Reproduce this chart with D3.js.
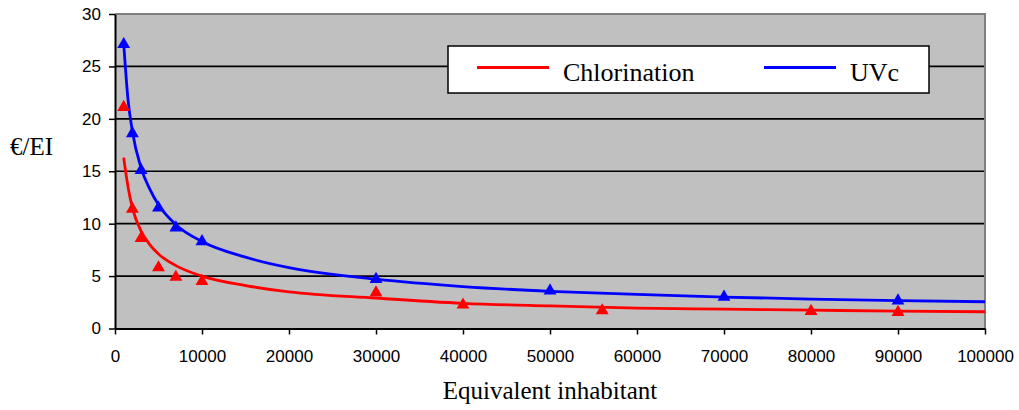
<!DOCTYPE html>
<html>
<head>
<meta charset="utf-8">
<title>Cost per EI: Chlorination vs UVc</title>
<script src="https://d3js.org/d3.v7.min.js"></script>
<style>
  body { margin: 0; background: #fff; }
  .tick text { font-family: "Liberation Sans", Arial, sans-serif; font-size: 17px; fill: #000; }
</style>
</head>
<body>
<script>
// measured points (triangles)
var redX  = [1000, 2000, 3000, 5000, 7000, 10000, 30000, 40000, 56000, 80000, 90000];
var redY  = [21.2, 11.5, 8.7, 5.9, 5.0, 4.6, 3.5, 2.35, 1.8, 1.75, 1.65];
var blueX = [1000, 2000, 3000, 5000, 7000, 10000, 30000, 50000, 70000, 90000];
var blueY = [27.2, 18.7, 15.2, 11.6, 9.7, 8.4, 4.8, 3.7, 3.1, 2.75];

// trend lines
var trendX    = [1000, 1500, 2000, 3000, 4000, 5000, 7000, 10000, 15000, 20000, 30000, 40000, 50000, 60000, 70000, 80000, 90000, 100000];
var redTrend  = [16.3, 13.5, 11.5, 9.3, 8.0, 7.1, 6.0, 5.0, 4.1, 3.5, 2.9, 2.4, 2.15, 1.95, 1.85, 1.75, 1.65, 1.6];
var blueTrend = [27.2, 21.8, 18.8, 15.3, 13.3, 11.8, 9.9, 8.3, 6.8, 5.8, 4.7, 4.0, 3.55, 3.25, 3.0, 2.8, 2.65, 2.55];

var xTicks = [0, 10000, 20000, 30000, 40000, 50000, 60000, 70000, 80000, 90000, 100000];
var yTicks = [0, 5, 10, 15, 20, 25, 30];
var seriesNames = ["Chlorination", "UVc"];
var colors = ["#ff0000", "#0000ff"];

(function() {
    var w = 1019, h = 410;
    var pl = 115, pr = 985, pt = 14, pb = 328.5;

    var x = d3.scaleLinear().domain([0, 100000]).range([pl, pr]);
    var y = d3.scaleLinear().domain([0, 30]).range([pb, pt]);

    var svg = d3.select("body").append("svg")
        .attr("width", w)
        .attr("height", h);

    // plot background
    svg.append("rect")
        .attr("x", pl).attr("y", pt)
        .attr("width", pr - pl).attr("height", pb - pt)
        .attr("fill", "#c0c0c0");

    // gridlines
    svg.append("g").selectAll("line")
        .data(yTicks.slice(1, -1))
        .enter().append("line")
        .attr("x1", pl).attr("x2", pr)
        .attr("y1", d => y(d)).attr("y2", d => y(d))
        .attr("stroke", "#000").attr("stroke-width", 1.6);

    // top & right frame
    svg.append("path")
        .attr("d", "M" + pl + "," + pt + "H" + pr + "V" + pb)
        .attr("fill", "none").attr("stroke", "#808080").attr("stroke-width", 2);

    // trend lines
    var line = d3.line()
        .x(d => x(d[0]))
        .y(d => y(d[1]))
        .curve(d3.curveMonotoneX);

    [redTrend, blueTrend].forEach(function(vals, i) {
        svg.append("path")
            .datum(trendX.map((v, k) => [v, vals[k]]))
            .attr("d", line)
            .attr("fill", "none")
            .attr("stroke", colors[i])
            .attr("stroke-width", 2.8);
    });

    // triangles
    var tri = d3.symbol().type(d3.symbolTriangle).size(72);
    [[redX, redY], [blueX, blueY]].forEach(function(s, i) {
        svg.append("g").selectAll("path")
            .data(s[0].map((v, k) => [v, s[1][k]]))
            .enter().append("path")
            .attr("d", tri)
            .attr("transform", d => "translate(" + x(d[0]) + "," + (y(d[1]) + 1) + ")")
            .attr("fill", colors[i]);
    });

    // axes
    var xAxis = svg.append("g")
        .attr("transform", "translate(0," + pb + ")")
        .call(d3.axisBottom(x).tickValues(xTicks).tickFormat(d3.format("d")).tickSize(6).tickSizeOuter(0).tickPadding(15));
    var yAxis = svg.append("g")
        .attr("transform", "translate(" + pl + ",0)")
        .call(d3.axisLeft(y).tickValues(yTicks).tickSize(6).tickSizeOuter(0).tickPadding(8));
    [xAxis, yAxis].forEach(function(a) {
        a.select(".domain").attr("stroke", "#000").attr("stroke-width", 2);
        a.selectAll(".tick line").attr("stroke", "#000").attr("stroke-width", 1.5);
    });

    // axis titles
    svg.append("text")
        .attr("x", (pl + pr) / 2).attr("y", 399)
        .attr("text-anchor", "middle")
        .style("font-family", "'Liberation Serif', 'Times New Roman', serif")
        .style("font-size", "25px")
        .text("Equivalent inhabitant");

    svg.append("text")
        .attr("x", 10).attr("y", 155)
        .style("font-family", "'Liberation Serif', 'Times New Roman', serif")
        .style("font-size", "25px")
        .text("€/EI");

    // legend
    var lg = svg.append("g");
    lg.append("rect")
        .attr("x", 448).attr("y", 46)
        .attr("width", 481).attr("height", 47)
        .attr("fill", "#fff").attr("stroke", "#000").attr("stroke-width", 1.5);
    var legX = [477, 764];
    seriesNames.forEach(function(name, i) {
        lg.append("line")
            .attr("x1", legX[i]).attr("x2", legX[i] + 72)
            .attr("y1", 67.5).attr("y2", 67.5)
            .attr("stroke", colors[i]).attr("stroke-width", 3);
        lg.append("text")
            .attr("x", legX[i] + 86).attr("y", 81)
            .style("font-family", "'Liberation Serif', 'Times New Roman', serif")
            .style("font-size", "26px")
            .text(name);
    });
})();
</script>
</body>
</html>
